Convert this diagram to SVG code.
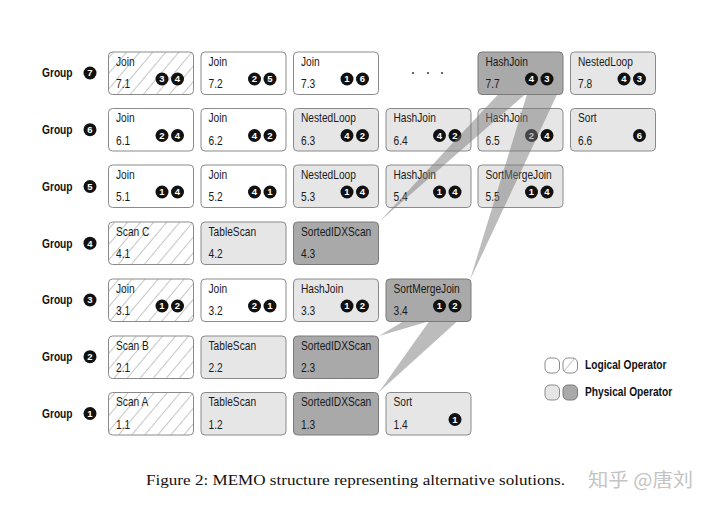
<svg xmlns="http://www.w3.org/2000/svg" width="720" height="507" viewBox="0 0 720 507">
<defs>
<pattern id="hatch" patternUnits="userSpaceOnUse" width="10" height="10" patternTransform="rotate(40)">
<rect width="10" height="10" fill="#fff"/>
<line x1="0" y1="0" x2="0" y2="10" stroke="#707070" stroke-width="0.8"/>
</pattern>
<style>
.bx{stroke:#8a8a8a;stroke-width:1}
.w{fill:#fff}.h{fill:url(#hatch)}.l{fill:#e6e6e6}.d{fill:#a9a9a9;stroke:#7a7a7a}
text{font-family:"Liberation Sans",Arial,sans-serif}
.t,.g{transform:scaleX(0.85);transform-box:fill-box;transform-origin:0% 50%}
.t{font-size:12px;fill:#1a1a1a}
.g{font-size:12px;font-weight:bold;fill:#111}
.c{fill:#111}
.n{font-size:9.5px;font-weight:bold;fill:#fff;text-anchor:middle}
.beam{fill:#7a7a7a;fill-opacity:0.5}
.cap{font-family:"Liberation Serif","Times New Roman",serif;font-size:15px;fill:#111}
.wm{font-family:"Noto Sans CJK SC",sans-serif;font-size:19px;fill:#c4c4c4}
</style>
</defs>
<rect width="720" height="507" fill="#fff"/>

<g id="labels">
<g id="group7"><text class="g" x="42" y="77.5">Group</text><circle class="c" cx="90" cy="73" r="6.5"/><text class="n" x="90" y="76.3">7</text></g>
<g id="group6"><text class="g" x="42" y="134">Group</text><circle class="c" cx="90" cy="129.7" r="6.5"/><text class="n" x="90" y="133">6</text></g>
<g id="group5"><text class="g" x="42" y="191">Group</text><circle class="c" cx="90" cy="186.5" r="6.5"/><text class="n" x="90" y="189.8">5</text></g>
<g id="group4"><text class="g" x="42" y="248">Group</text><circle class="c" cx="90" cy="243.2" r="6.5"/><text class="n" x="90" y="246.5">4</text></g>
<g id="group3"><text class="g" x="42" y="304.5">Group</text><circle class="c" cx="90" cy="300" r="6.5"/><text class="n" x="90" y="303.3">3</text></g>
<g id="group2"><text class="g" x="42" y="361.5">Group</text><circle class="c" cx="90" cy="356.7" r="6.5"/><text class="n" x="90" y="360">2</text></g>
<g id="group1"><text class="g" x="42" y="418">Group</text><circle class="c" cx="90" cy="413.5" r="6.5"/><text class="n" x="90" y="416.8">1</text></g>
</g>

<!-- Row 7 (y=52) -->
<g id="n7_1"><rect class="bx h" x="108.5" y="52" width="85" height="42.5" rx="4"/><text class="t" x="116" y="66">Join</text><text class="t" x="116" y="88.5">7.1</text><circle class="c" cx="162" cy="79" r="6.5"/><text class="n" x="162" y="82.3">3</text><circle class="c" cx="177.5" cy="79" r="6.5"/><text class="n" x="177.5" y="82.3">4</text></g>
<g id="n7_2"><rect class="bx w" x="201" y="52" width="85" height="42.5" rx="4"/><text class="t" x="208.5" y="66">Join</text><text class="t" x="208.5" y="88.5">7.2</text><circle class="c" cx="254.5" cy="79" r="6.5"/><text class="n" x="254.5" y="82.3">2</text><circle class="c" cx="270" cy="79" r="6.5"/><text class="n" x="270" y="82.3">5</text></g>
<g id="n7_3"><rect class="bx w" x="293.5" y="52" width="85" height="42.5" rx="4"/><text class="t" x="301" y="66">Join</text><text class="t" x="301" y="88.5">7.3</text><circle class="c" cx="347" cy="79" r="6.5"/><text class="n" x="347" y="82.3">1</text><circle class="c" cx="362.5" cy="79" r="6.5"/><text class="n" x="362.5" y="82.3">6</text></g>
<g id="ellipsis"><circle cx="413" cy="73" r="1" fill="#333"/><circle cx="428" cy="73" r="1" fill="#333"/><circle cx="442" cy="73" r="1" fill="#333"/></g>
<g id="n7_7"><rect class="bx d" x="478" y="52" width="85" height="42.5" rx="4"/><text class="t" x="485.5" y="66">HashJoin</text><text class="t" x="485.5" y="88.5">7.7</text><circle class="c" cx="531.5" cy="79" r="6.5"/><text class="n" x="531.5" y="82.3">4</text><circle class="c" cx="547" cy="79" r="6.5"/><text class="n" x="547" y="82.3">3</text></g>
<g id="n7_8"><rect class="bx l" x="570.5" y="52" width="85" height="42.5" rx="4"/><text class="t" x="578" y="66">NestedLoop</text><text class="t" x="578" y="88.5">7.8</text><circle class="c" cx="624" cy="79" r="6.5"/><text class="n" x="624" y="82.3">4</text><circle class="c" cx="639.5" cy="79" r="6.5"/><text class="n" x="639.5" y="82.3">3</text></g>

<!-- Row 6 (y=108.5) -->
<g id="n6_1"><rect class="bx w" x="108.5" y="108.5" width="85" height="42.5" rx="4"/><text class="t" x="116" y="122.5">Join</text><text class="t" x="116" y="145">6.1</text><circle class="c" cx="162" cy="135.5" r="6.5"/><text class="n" x="162" y="138.8">2</text><circle class="c" cx="177.5" cy="135.5" r="6.5"/><text class="n" x="177.5" y="138.8">4</text></g>
<g id="n6_2"><rect class="bx w" x="201" y="108.5" width="85" height="42.5" rx="4"/><text class="t" x="208.5" y="122.5">Join</text><text class="t" x="208.5" y="145">6.2</text><circle class="c" cx="254.5" cy="135.5" r="6.5"/><text class="n" x="254.5" y="138.8">4</text><circle class="c" cx="270" cy="135.5" r="6.5"/><text class="n" x="270" y="138.8">2</text></g>
<g id="n6_3"><rect class="bx l" x="293.5" y="108.5" width="85" height="42.5" rx="4"/><text class="t" x="301" y="122.5">NestedLoop</text><text class="t" x="301" y="145">6.3</text><circle class="c" cx="347" cy="135.5" r="6.5"/><text class="n" x="347" y="138.8">4</text><circle class="c" cx="362.5" cy="135.5" r="6.5"/><text class="n" x="362.5" y="138.8">2</text></g>
<g id="n6_4"><rect class="bx l" x="386" y="108.5" width="85" height="42.5" rx="4"/><text class="t" x="393.5" y="122.5">HashJoin</text><text class="t" x="393.5" y="145">6.4</text><circle class="c" cx="439.5" cy="135.5" r="6.5"/><text class="n" x="439.5" y="138.8">4</text><circle class="c" cx="455" cy="135.5" r="6.5"/><text class="n" x="455" y="138.8">2</text></g>
<g id="n6_5"><rect class="bx l" x="478" y="108.5" width="85" height="42.5" rx="4"/><text class="t" x="485.5" y="122.5">HashJoin</text><text class="t" x="485.5" y="145">6.5</text><circle class="c" cx="531.5" cy="135.5" r="6.5"/><text class="n" x="531.5" y="138.8">2</text><circle class="c" cx="547" cy="135.5" r="6.5"/><text class="n" x="547" y="138.8">4</text></g>
<g id="n6_6"><rect class="bx l" x="570.5" y="108.5" width="85" height="42.5" rx="4"/><text class="t" x="578" y="122.5">Sort</text><text class="t" x="578" y="145">6.6</text><circle class="c" cx="639.5" cy="135.5" r="6.5"/><text class="n" x="639.5" y="138.8">6</text></g>

<!-- Row 5 (y=165) -->
<g id="n5_1"><rect class="bx w" x="108.5" y="165" width="85" height="42.5" rx="4"/><text class="t" x="116" y="179">Join</text><text class="t" x="116" y="201.5">5.1</text><circle class="c" cx="162" cy="192" r="6.5"/><text class="n" x="162" y="195.3">1</text><circle class="c" cx="177.5" cy="192" r="6.5"/><text class="n" x="177.5" y="195.3">4</text></g>
<g id="n5_2"><rect class="bx w" x="201" y="165" width="85" height="42.5" rx="4"/><text class="t" x="208.5" y="179">Join</text><text class="t" x="208.5" y="201.5">5.2</text><circle class="c" cx="254.5" cy="192" r="6.5"/><text class="n" x="254.5" y="195.3">4</text><circle class="c" cx="270" cy="192" r="6.5"/><text class="n" x="270" y="195.3">1</text></g>
<g id="n5_3"><rect class="bx l" x="293.5" y="165" width="85" height="42.5" rx="4"/><text class="t" x="301" y="179">NestedLoop</text><text class="t" x="301" y="201.5">5.3</text><circle class="c" cx="347" cy="192" r="6.5"/><text class="n" x="347" y="195.3">1</text><circle class="c" cx="362.5" cy="192" r="6.5"/><text class="n" x="362.5" y="195.3">4</text></g>
<g id="n5_4"><rect class="bx l" x="386" y="165" width="85" height="42.5" rx="4"/><text class="t" x="393.5" y="179">HashJoin</text><text class="t" x="393.5" y="201.5">5.4</text><circle class="c" cx="439.5" cy="192" r="6.5"/><text class="n" x="439.5" y="195.3">1</text><circle class="c" cx="455" cy="192" r="6.5"/><text class="n" x="455" y="195.3">4</text></g>
<g id="n5_5"><rect class="bx l" x="478" y="165" width="85" height="42.5" rx="4"/><text class="t" x="485.5" y="179">SortMergeJoin</text><text class="t" x="485.5" y="201.5">5.5</text><circle class="c" cx="531.5" cy="192" r="6.5"/><text class="n" x="531.5" y="195.3">1</text><circle class="c" cx="547" cy="192" r="6.5"/><text class="n" x="547" y="195.3">4</text></g>

<!-- Row 4 (y=222) -->
<g id="n4_1"><rect class="bx h" x="108.5" y="222" width="85" height="42.5" rx="4"/><text class="t" x="116" y="236">Scan C</text><text class="t" x="116" y="258.5">4.1</text></g>
<g id="n4_2"><rect class="bx l" x="201" y="222" width="85" height="42.5" rx="4"/><text class="t" x="208.5" y="236">TableScan</text><text class="t" x="208.5" y="258.5">4.2</text></g>
<g id="n4_3"><rect class="bx d" x="293.5" y="222" width="85" height="42.5" rx="4"/><text class="t" x="301" y="236">SortedIDXScan</text><text class="t" x="301" y="258.5">4.3</text></g>

<!-- Row 3 (y=279) -->
<g id="n3_1"><rect class="bx h" x="108.5" y="279" width="85" height="42.5" rx="4"/><text class="t" x="116" y="293">Join</text><text class="t" x="116" y="315.5">3.1</text><circle class="c" cx="162" cy="306" r="6.5"/><text class="n" x="162" y="309.3">1</text><circle class="c" cx="177.5" cy="306" r="6.5"/><text class="n" x="177.5" y="309.3">2</text></g>
<g id="n3_2"><rect class="bx w" x="201" y="279" width="85" height="42.5" rx="4"/><text class="t" x="208.5" y="293">Join</text><text class="t" x="208.5" y="315.5">3.2</text><circle class="c" cx="254.5" cy="306" r="6.5"/><text class="n" x="254.5" y="309.3">2</text><circle class="c" cx="270" cy="306" r="6.5"/><text class="n" x="270" y="309.3">1</text></g>
<g id="n3_3"><rect class="bx l" x="293.5" y="279" width="85" height="42.5" rx="4"/><text class="t" x="301" y="293">HashJoin</text><text class="t" x="301" y="315.5">3.3</text><circle class="c" cx="347" cy="306" r="6.5"/><text class="n" x="347" y="309.3">1</text><circle class="c" cx="362.5" cy="306" r="6.5"/><text class="n" x="362.5" y="309.3">2</text></g>
<g id="n3_4"><rect class="bx d" x="386" y="279" width="85" height="42.5" rx="4"/><text class="t" x="393.5" y="293">SortMergeJoin</text><text class="t" x="393.5" y="315.5">3.4</text><circle class="c" cx="439.5" cy="306" r="6.5"/><text class="n" x="439.5" y="309.3">1</text><circle class="c" cx="455" cy="306" r="6.5"/><text class="n" x="455" y="309.3">2</text></g>

<!-- Row 2 (y=336) -->
<g id="n2_1"><rect class="bx h" x="108.5" y="336" width="85" height="42.5" rx="4"/><text class="t" x="116" y="350">Scan B</text><text class="t" x="116" y="372.5">2.1</text></g>
<g id="n2_2"><rect class="bx l" x="201" y="336" width="85" height="42.5" rx="4"/><text class="t" x="208.5" y="350">TableScan</text><text class="t" x="208.5" y="372.5">2.2</text></g>
<g id="n2_3"><rect class="bx d" x="293.5" y="336" width="85" height="42.5" rx="4"/><text class="t" x="301" y="350">SortedIDXScan</text><text class="t" x="301" y="372.5">2.3</text></g>

<!-- Row 1 (y=392.5) -->
<g id="n1_1"><rect class="bx h" x="108.5" y="392.5" width="85" height="42.5" rx="4"/><text class="t" x="116" y="406.5">Scan A</text><text class="t" x="116" y="429">1.1</text></g>
<g id="n1_2"><rect class="bx l" x="201" y="392.5" width="85" height="42.5" rx="4"/><text class="t" x="208.5" y="406.5">TableScan</text><text class="t" x="208.5" y="429">1.2</text></g>
<g id="n1_3"><rect class="bx d" x="293.5" y="392.5" width="85" height="42.5" rx="4"/><text class="t" x="301" y="406.5">SortedIDXScan</text><text class="t" x="301" y="429">1.3</text></g>
<g id="n1_4"><rect class="bx l" x="386" y="392.5" width="85" height="42.5" rx="4"/><text class="t" x="393.5" y="406.5">Sort</text><text class="t" x="393.5" y="429">1.4</text><circle class="c" cx="455" cy="419.5" r="6.5"/><text class="n" x="455" y="422.8">1</text></g>

<g id="connectors">
<polygon class="beam" points="498,94.5 525,94.5 380,221"/>
<polygon class="beam" points="527,94.5 557,94.5 470,280"/>
<polygon class="beam" points="403,321.5 428,321.5 379,336"/>
<polygon class="beam" points="429,321.5 457,321.5 379,392"/>
</g>

<g id="legend">
<rect class="bx w" x="545" y="358" width="14.5" height="15" rx="5"/>
<rect class="bx h" x="563" y="358" width="14.5" height="15" rx="5"/>
<text class="g" x="585" y="369.5">Logical Operator</text>
<rect class="bx l" x="545" y="385" width="14.5" height="15" rx="5"/>
<rect class="bx d" x="563" y="385" width="14.5" height="15" rx="5"/>
<text class="g" x="585" y="396.5">Physical Operator</text>
</g>

<text class="cap" x="146" y="485" textLength="419" lengthAdjust="spacingAndGlyphs">Figure 2: MEMO structure representing alternative solutions.</text>
<text class="wm" x="588" y="487" textLength="105" lengthAdjust="spacingAndGlyphs">知乎 @唐刘</text>
</svg>
